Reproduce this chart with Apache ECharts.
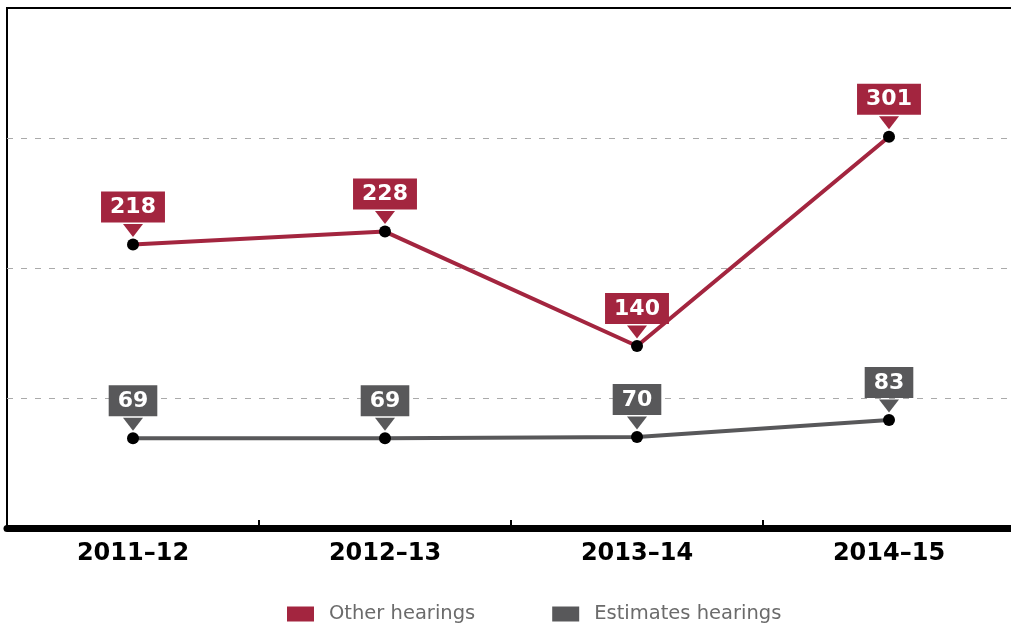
<!DOCTYPE html>
<html><head><meta charset="utf-8">
<script src="https://cdn.jsdelivr.net/npm/echarts@6/dist/echarts.min.js"></script>
<style>html,body{margin:0;padding:0;background:#fff}#c{width:1011px;height:626px}</style>
</head><body><div id="c"></div>
<script>
var categories = ['2011\u201312', '2012\u201313', '2013\u201314', '2014\u201315'];
var otherHearings = [218, 228, 140, 301];
var estimatesHearings = [69, 69, 70, 83];
var seriesNames = ['Other hearings', 'Estimates hearings'];
var yTicks = [0, 100, 200, 300, 400];

var RED = '#a3253f', GRAY = '#58585a';
var tri = 'path://M0,0 L20,0 L10,13 Z';

function dots(data, color) {
  return {
    type: 'scatter', data: data, symbol: 'circle', symbolSize: 12, z: 5,
    itemStyle: {color: '#000', opacity: 1}, silent: true,
    label: {show: true, position: 'top', distance: 16, color: '#fff', backgroundColor: color,
      fontFamily: 'DejaVu Sans', fontWeight: 'bold', fontSize: 22, padding: [4, 9, 3, 9], lineHeight: 24}
  };
}
function pointers(data, color) {
  return {
    type: 'scatter', data: data, symbol: tri, symbolSize: [20, 13], symbolOffset: [0, -14], z: 4,
    itemStyle: {color: color, opacity: 1}, silent: true
  };
}

var chart = echarts.init(document.getElementById('c'));
chart.setOption({
  animation: false,
  grid: {left: 7, top: 8, width: 1008, height: 520, show: true, borderColor: '#000', borderWidth: 2,
    backgroundColor: 'transparent', containLabel: false, outerBoundsMode: 'none'},
  legend: {
    top: 599, left: 282, icon: 'rect', itemWidth: 27, itemHeight: 15, itemGap: 77,
    data: seriesNames,
    textStyle: {fontFamily: 'DejaVu Sans', fontSize: 19.5, color: '#6b6b6b', padding: [0, 0, 0, 10]}
  },
  xAxis: {
    type: 'category', data: categories, boundaryGap: true,
    axisLine: {lineStyle: {color: '#000', width: 7}},
    axisTick: {show: true, inside: true, length: 8, lineStyle: {color: '#000', width: 2}},
    axisLabel: {color: '#000', fontFamily: 'DejaVu Sans', fontWeight: 'bold', fontSize: 24, margin: 14}
  },
  yAxis: {
    type: 'value', min: yTicks[0], max: yTicks[yTicks.length - 1], interval: 100,
    axisLine: {show: false}, axisTick: {show: false}, axisLabel: {show: false},
    splitLine: {show: true, showMinLine: false, showMaxLine: false,
      lineStyle: {color: '#aaa', type: [6, 8], width: 1}}
  },
  series: [
    {name: seriesNames[0], type: 'line', data: otherHearings, symbol: 'none', color: RED,
      lineStyle: {width: 4, color: RED}, z: 3},
    {name: seriesNames[1], type: 'line', data: estimatesHearings, symbol: 'none', color: GRAY,
      lineStyle: {width: 4, color: GRAY}, z: 3},
    pointers(otherHearings, RED),
    pointers(estimatesHearings, GRAY),
    dots(otherHearings, RED),
    dots(estimatesHearings, GRAY)
  ]
});
</script></body></html>
